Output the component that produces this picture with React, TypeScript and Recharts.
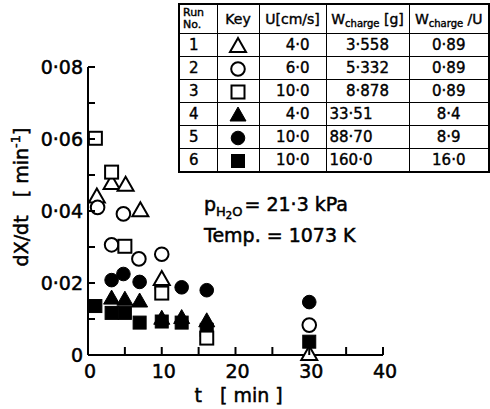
import { ScatterChart, Scatter, XAxis, YAxis } from "recharts"

// dX/dt readings per run: t in min, rate in 1/min
const run1 = [
  { t: 1.2, rate: 0.044 },
  { t: 3.2, rate: 0.0478 },
  { t: 5.1, rate: 0.0473 },
  { t: 7.1, rate: 0.0402 },
  { t: 10, rate: 0.0211 },
  { t: 30, rate: 0.0003 },
]
const run2 = [
  { t: 1.3, rate: 0.041 },
  { t: 3.2, rate: 0.0306 },
  { t: 4.8, rate: 0.0392 },
  { t: 6.9, rate: 0.0267 },
  { t: 10, rate: 0.028 },
  { t: 30, rate: 0.0083 },
]
const run3 = [
  { t: 1, rate: 0.0602 },
  { t: 3.2, rate: 0.0508 },
  { t: 5, rate: 0.0302 },
  { t: 10, rate: 0.0172 },
  { t: 16.1, rate: 0.0047 },
]
const run4 = [
  { t: 3.2, rate: 0.0158 },
  { t: 5, rate: 0.0155 },
  { t: 7, rate: 0.015 },
  { t: 10, rate: 0.0102 },
  { t: 12.7, rate: 0.0104 },
  { t: 16.1, rate: 0.0095 },
]
const run5 = [
  { t: 3.2, rate: 0.0208 },
  { t: 4.8, rate: 0.0225 },
  { t: 7, rate: 0.0203 },
  { t: 10, rate: 0.0186 },
  { t: 12.7, rate: 0.0188 },
  { t: 16.1, rate: 0.018 },
  { t: 30, rate: 0.0147 },
]
const run6 = [
  { t: 1, rate: 0.0136 },
  { t: 3.2, rate: 0.0117 },
  { t: 5, rate: 0.0117 },
  { t: 7, rate: 0.009 },
  { t: 10, rate: 0.0093 },
  { t: 12.7, rate: 0.009 },
  { t: 16.1, rate: 0.007 },
  { t: 30, rate: 0.0037 },
]

const timeTicks = [0, 5, 10, 15, 20, 25, 30, 35, 40]
const rateTicks = [0, 0.01, 0.02, 0.03, 0.04, 0.05, 0.06, 0.07, 0.08]

// table columns
const runNumbers = ["1", "2", "3", "4", "5", "6"]
const velocities = ["4·0", "6·0", "10·0", "4·0", "10·0", "10·0"]
const chargeMasses = ["3·558", "5·332", "8·878", "33·51", "88·70", "160·0"]
const massPerVelocity = ["0·89", "0·89", "0·89", "8·4", "8·9", "16·0"]

type Kind = "triangle" | "circle" | "square"

const runs: { data: { t: number; rate: number }[]; kind: Kind; filled: boolean }[] = [
  { data: run1, kind: "triangle", filled: false },
  { data: run2, kind: "circle", filled: false },
  { data: run3, kind: "square", filled: false },
  { data: run4, kind: "triangle", filled: true },
  { data: run5, kind: "circle", filled: true },
  { data: run6, kind: "square", filled: true },
]

const FONT = "DejaVu Sans"
const TICK_GAP = 5

function Marker({ kind, filled, cx, cy }: { kind: Kind; filled: boolean; cx: number; cy: number }) {
  const fill = filled ? "#000" : "#fff"
  const common = { fill, stroke: "#000", strokeWidth: filled ? 1 : 2 }
  if (kind === "circle") return <circle cx={cx} cy={cy} r={6.8} {...common} />
  if (kind === "square") return <rect x={cx - 6.5} y={cy - 6.5} width={13} height={13} {...common} />
  return <polygon points={`${cx},${cy - 8} ${cx + 8},${cy + 6} ${cx - 8},${cy + 6}`} {...common} />
}

const fmt = (v: number, digits: number) => (v === 0 ? "0" : v.toFixed(digits).replace(".", "·"))

function RateTick(props: any) {
  const { x, y, index, payload } = props
  const axisX = x + TICK_GAP
  return (
    <g>
      <line x1={axisX} x2={axisX + 7} y1={y} y2={y} stroke="#000" strokeWidth={2} />
      {index % 2 === 0 && (
        <text x={x} y={y} dy="0.36em" textAnchor="end" fontFamily={FONT} fontSize={19}
          fill="#000" stroke="#000" strokeWidth={0.5}>
          {fmt(payload.value, 2)}
        </text>
      )}
    </g>
  )
}

function TimeTick(props: any) {
  const { x, y, index, payload } = props
  const axisY = y - TICK_GAP
  return (
    <g>
      <line x1={x} x2={x} y1={axisY} y2={axisY - 8} stroke="#000" strokeWidth={2} />
      {index % 2 === 0 && (
        <text x={x + 2} y={y} dy="0.95em" textAnchor="middle" fontFamily={FONT} fontSize={19}
          fill="#000" stroke="#000" strokeWidth={0.5}>
          {payload.value}
        </text>
      )}
    </g>
  )
}

function TimeTitle(props: any) {
  const { viewBox } = props
  const cx = viewBox.x + viewBox.width / 2
  return (
    <text x={cx - 41} y={viewBox.y + viewBox.height - 7} fontFamily={FONT} fontSize={19}
      fill="#000" stroke="#000" strokeWidth={0.5}>
      <tspan>t</tspan>
      <tspan dx={18}>[ min ]</tspan>
    </text>
  )
}

function RateTitle(props: any) {
  const { viewBox } = props
  const x = viewBox.x + 28
  const y = viewBox.y + viewBox.height / 2 - 14
  return (
    <text x={x} y={y} transform={`rotate(-90, ${x}, ${y})`} textAnchor="middle" fontFamily={FONT}
      fontSize={19} fill="#000" stroke="#000" strokeWidth={0.5} style={{ whiteSpace: "pre" }}>
      <tspan>{"dX/dt   [ min"}</tspan>
      <tspan dy={-8} fontSize={13}>-1</tspan>
      <tspan dy={8}>]</tspan>
    </text>
  )
}

function KeySymbol({ kind, filled }: { kind: Kind; filled: boolean }) {
  return (
    <svg width={20} height={18} style={{ display: "block", margin: "0 auto" }}>
      <Marker kind={kind} filled={filled} cx={10} cy={10} />
    </svg>
  )
}

const cell: React.CSSProperties = {
  border: "1.5px solid #000",
  padding: 0,
  height: 21,
  fontSize: 15,
  WebkitTextStroke: "0.4px #000",
}

export default function App() {
  return (
    <div style={{ position: "absolute", left: 0, top: 0, width: 490, height: 409, background: "#fff" }}>
      <ScatterChart width={490} height={409} margin={{ top: 67, right: 107, bottom: 0, left: 0 }}>
        <XAxis
          type="number"
          dataKey="t"
          domain={[0, 40]}
          ticks={timeTicks}
          height={54}
          tickSize={0}
          tickMargin={TICK_GAP}
          tickLine={false}
          axisLine={{ stroke: "#000", strokeWidth: 2 }}
          tick={<TimeTick />}
          label={<TimeTitle />}
        />
        <YAxis
          type="number"
          dataKey="rate"
          domain={[0, 0.08]}
          ticks={rateTicks}
          width={88}
          tickSize={0}
          tickMargin={TICK_GAP}
          tickLine={false}
          axisLine={{ stroke: "#000", strokeWidth: 2 }}
          tick={<RateTick />}
          label={<RateTitle />}
        />
        {[3, 4, 5, 0, 1, 2].map((i) => (
          <Scatter
            key={i}
            data={runs[i].data}
            isAnimationActive={false}
            shape={(p: any) => <Marker kind={runs[i].kind} filled={runs[i].filled} cx={p.cx} cy={p.cy} />}
          />
        ))}
      </ScatterChart>

      <svg width={490} height={409} style={{ position: "absolute", left: 0, top: 0, pointerEvents: "none" }}>
        <g fontFamily={FONT} fill="#000" stroke="#000" strokeWidth={0.5}>
          <text x={204} y={211} fontSize={19}>
            <tspan>p</tspan>
            <tspan dy={5} fontSize={13}>H</tspan>
            <tspan dy={3} fontSize={10}>2</tspan>
            <tspan dy={-3} fontSize={13}>O</tspan>
            <tspan dy={-5} dx={2}>= 21·3 kPa</tspan>
          </text>
          <text x={204} y={242} fontSize={19}>Temp. = 1073 K</text>
        </g>
      </svg>

      <table
        style={{
          position: "absolute",
          left: 178,
          top: 3,
          borderCollapse: "collapse",
          border: "2px solid #000",
          background: "#fff",
          fontFamily: FONT,
          color: "#000",
          tableLayout: "fixed",
          width: 310,
        }}
      >
        <colgroup>
          <col style={{ width: 38 }} />
          <col style={{ width: 42 }} />
          <col style={{ width: 67 }} />
          <col style={{ width: 83 }} />
          <col style={{ width: 80 }} />
        </colgroup>
        <tbody>
          <tr>
            <td style={{ ...cell, height: 28, fontSize: 11, lineHeight: "12px", paddingLeft: 3 }}>
              <div>Run</div>
              <div>No.</div>
            </td>
            <td style={{ ...cell, textAlign: "center", fontSize: 14 }}>Key</td>
            <td style={{ ...cell, textAlign: "center", fontSize: 14, whiteSpace: "nowrap" }}>U[cm/s]</td>
            <td style={{ ...cell, textAlign: "center", fontSize: 14, whiteSpace: "nowrap" }}>
              W<span style={{ fontSize: 10, position: "relative", top: 3 }}>charge</span> [g]
            </td>
            <td style={{ ...cell, textAlign: "center", fontSize: 14, whiteSpace: "nowrap" }}>
              W<span style={{ fontSize: 10, position: "relative", top: 3 }}>charge</span> /U
            </td>
          </tr>
          {runNumbers.map((n, i) => (
            <tr key={n}>
              <td style={{ ...cell, height: 22, paddingLeft: 9 }}>{n}</td>
              <td style={cell}>
                <KeySymbol kind={runs[i].kind} filled={runs[i].filled} />
              </td>
              <td style={{ ...cell, textAlign: "right", paddingRight: 16 }}>{velocities[i]}</td>
              <td style={{ ...cell, textAlign: i < 3 ? "center" : "left", paddingLeft: i < 3 ? 0 : 3 }}>
                {chargeMasses[i]}
              </td>
              <td style={{ ...cell, textAlign: "center" }}>{massPerVelocity[i]}</td>
            </tr>
          ))}
        </tbody>
      </table>
    </div>
  )
}
